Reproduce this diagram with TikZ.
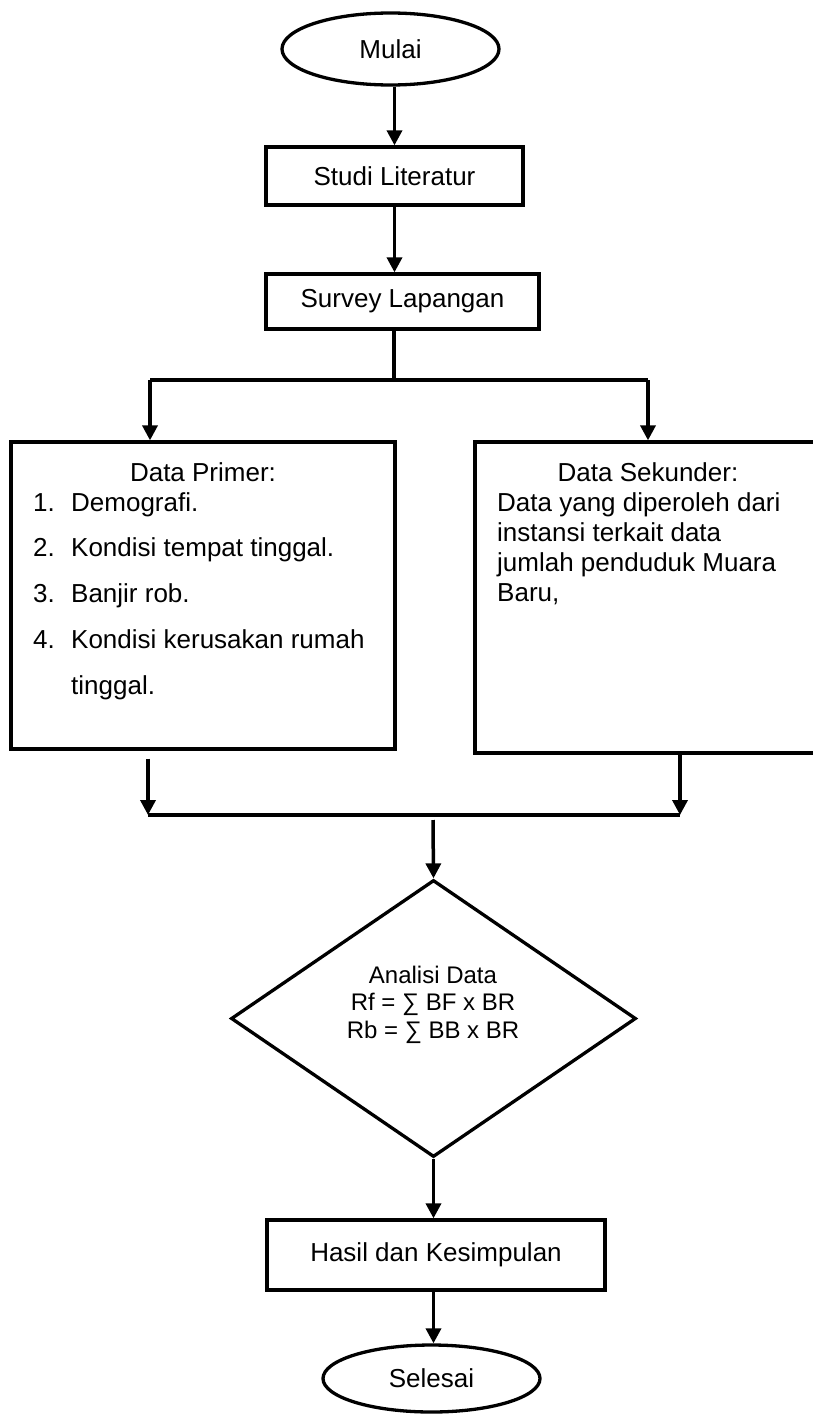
\documentclass[tikz,border=0pt]{standalone}
\usepackage{fontspec}
\setmainfont{Liberation Sans}
\usetikzlibrary{shapes.geometric,arrows.meta}
\begin{document}
\begin{tikzpicture}[x=1pt,y=-1pt,
  base/.style={draw=black,line width=3.3pt,inner sep=0pt,font=\fontsize{26}{30}\selectfont},
  procbox/.style={base,rectangle},
  termbox/.style={base,ellipse},
  decbox/.style={base,diamond},
  txt/.style={inner sep=0pt,font=\fontsize{26}{30}\selectfont},
  conn/.style={line width=3.5pt},
  arr/.style={conn,-{Triangle[length=15pt,width=15pt]}}
]
\useasboundingbox (0,0) rectangle (812,1416);

\node[termbox,minimum width=217pt,minimum height=72pt] (mulai) at (390.5,49) {Mulai};
\node[procbox,minimum width=257pt,minimum height=58pt] (studi) at (394.5,176) {Studi Literatur};
\node[procbox,minimum width=273pt,minimum height=55pt] (survey) at (402.5,301.5) {Survey Lapangan};

\node[procbox,minimum width=384pt,minimum height=307pt] (primer) at (203,595.5) {};
\node[txt,anchor=base] (primert) at (203,481) {Data Primer:};
\node[txt,anchor=north west,align=left,font=\fontsize{26}{45.75}\selectfont] (primerl) at (33,492)
 {\makebox[38pt][l]{1.}Demografi.\\
  \makebox[38pt][l]{2.}Kondisi tempat tinggal.\\
  \makebox[38pt][l]{3.}Banjir rob.\\
  \makebox[38pt][l]{4.}Kondisi kerusakan rumah\\
  \hspace*{38pt}tinggal.};

\node[procbox,minimum width=450pt,minimum height=311pt] (sekunder) at (700,597.5) {};
\node[txt,anchor=base] (sekundert) at (648,481) {Data Sekunder:};
\node[txt,anchor=north west,align=left] (sekunderl) at (497,492)
 {Data yang diperoleh dari\\instansi terkait data\\jumlah penduduk Muara\\Baru,};

\node[decbox,minimum width=405pt,minimum height=277pt] (analisa) at (433.5,1018.5) {};
\node[txt,align=center,font=\fontsize{24}{27.5}\selectfont] (analisat) at (433,1004.5)
 {Analisi Data\\Rf = ∑ BF x BR\\Rb = ∑ BB x BR};

\node[procbox,minimum width=338pt,minimum height=70pt] (hasil) at (436,1255) {Hasil dan Kesimpulan};
\node[termbox,minimum width=217pt,minimum height=67pt] (selesai) at (431.5,1378.5) {Selesai};

\coordinate (split) at (394,380);
\coordinate (sl) at (150,380);
\coordinate (sr) at (648,380);
\coordinate (ml) at (148,815);
\coordinate (mr) at (680,815);
\coordinate (mc) at (433,820);

\draw[arr] (studi.north |- mulai.south) -- (studi.north);
\draw[arr] (studi.south) -- (studi.south |- survey.north);
\draw[conn] (split |- survey.south) -- (split);
\draw[conn] (sl) -- (sr);
\draw[arr] (sl) -- (sl |- primer.north);
\draw[arr] (sr) -- (sr |- sekunder.north);
\draw[arr] ([yshift=-8pt]ml |- primer.south) -- (ml);
\draw[arr] (mr |- sekunder.south) -- (mr);
\draw[conn] (ml) -- (mr);
\draw[arr] (mc) -- (analisa.north);
\draw[arr] (analisa.south) -- (analisa.south |- hasil.north);
\draw[arr] (analisa.south |- hasil.south) -- (analisa.south |- selesai.north);
\end{tikzpicture}
\end{document}
